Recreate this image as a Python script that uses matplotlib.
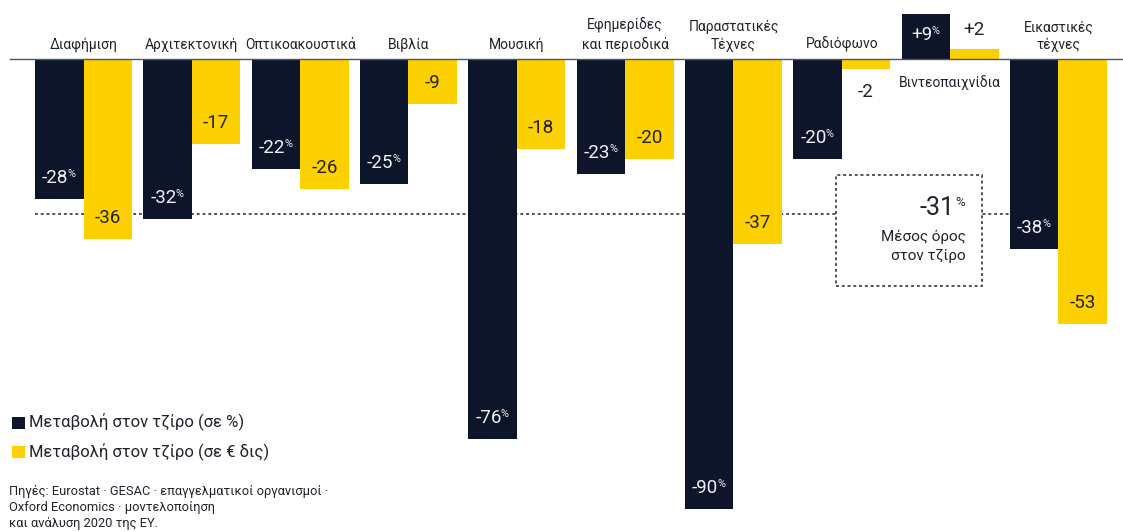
import matplotlib.pyplot as plt
from matplotlib.patches import Rectangle

plt.rcParams['font.family'] = ['Roboto', 'DejaVu Sans']

categories = ['Διαφήμιση', 'Αρχιτεκτονική', 'Οπτικοακουστικά', 'Βιβλία', 'Μουσική',
              'Εφημερίδες\nκαι περιοδικά', 'Παραστατικές\nΤέχνες', 'Ραδιόφωνο',
              'Βιντεοπαιχνίδια', 'Εικαστικές\nτέχνες']
change_pct = [-28, -32, -22, -25, -76, -23, -90, -20, 9, -38]   # μεταβολή σε %
change_bn = [-36, -17, -26, -9, -18, -20, -37, -2, 2, -53]      # μεταβολή σε € δις
average_pct = -31
legend_labels = ['Μεταβολή στον τζίρο (σε %)', 'Μεταβολή στον τζίρο (σε € δις)']
source = ('Πηγές: Eurostat · GESAC · επαγγελματικοί οργανισμοί ·\n'
          'Oxford Economics · μοντελοποίηση\n'
          'και ανάλυση 2020 της EY.')

NAVY = '#0c1529'
YELLOW = '#fdd000'
INK = '#22222c'
W, H = 1123, 532


def fxy(px, py):
    # pixel position (from top-left) -> figure fraction
    return px / W, 1 - py / H


fig = plt.figure(figsize=(W / 100, H / 100), dpi=100)
ax = fig.add_axes([0, 0, 1, 1])
ax.set_xlim(-0.771, 9.596)
ax.set_ylim(-94.6, 11.8)
ax.axis('off')

w = 0.448
x = list(range(len(categories)))

ax.bar([i - w / 2 for i in x], change_pct, width=w, color=NAVY, zorder=3)
ax.bar([i + w / 2 for i in x], change_bn, width=w, color=YELLOW, zorder=3)

ax.axhline(0, xmin=10 / W, color='#55555f', lw=1.0, zorder=4)

# μέσος όρος
ax.plot([x[0] - w, x[-1] - w], [average_pct, average_pct], color='#444444',
        lw=1.3, linestyle=(0, (1.6, 1.6)), zorder=2)
ax.add_patch(Rectangle((6.946, -45.4), 1.348, 22.2, facecolor='white',
                       edgecolor='#444444', lw=1.3, linestyle=(0, (1.6, 1.6)), zorder=2.5))


def value_label(xc, y, v, color, pct, size=13.5):
    t = ax.annotate(f'{v:+d}', xy=(xc, y), xytext=(-3 if pct else 0, 0),
                    textcoords='offset points', ha='center', va='center',
                    fontsize=size, color=color, zorder=5)
    if pct:
        ax.annotate('%', xy=(1, 1), xycoords=t, xytext=(-0.6, 0),
                    textcoords='offset points', ha='left', va='top',
                    fontsize=size * 0.58, color=color, zorder=5)


for i in x:
    for v, xc, inside_col, is_pct in [(change_pct[i], i - w / 2, '#f0f0f4', True),
                                      (change_bn[i], i + w / 2, INK, False)]:
        s = 1 if v > 0 else -1
        if abs(v) >= 5:
            value_label(xc, v - s * 4.2, v, inside_col, is_pct)
        else:
            value_label(xc, v + s * (3.8 if v > 0 else 4.6), v, INK, is_pct)

    if change_pct[i] > 0 and change_bn[i] > 0:
        ax.text(i, -4.8, categories[i], ha='center', va='center', fontsize=10, color=INK)
    else:
        ax.text(i, 1.4, categories[i], ha='center', va='bottom', fontsize=10,
                color=INK, linespacing=1.3)

ax.annotate(f'{average_pct:+d}', xy=(8.045, average_pct + 1.2), ha='right', va='center',
            fontsize=18, color=INK, zorder=5)
ax.annotate('%', xy=(8.045, average_pct + 2.4), xytext=(0.5, 0), textcoords='offset points',
            ha='left', va='center', fontsize=9.5, color=INK, zorder=5)
ax.text(8.147, -37.5, 'Μέσος όρος\nστον τζίρο', ha='right', va='center',
        fontsize=11, color=INK, linespacing=1.4, zorder=5)

# υπόμνημα
for k, (col, lab) in enumerate(zip([NAVY, YELLOW], legend_labels)):
    cy = 422.5 + 29.5 * k
    x0, y0 = fxy(12, cy + 6)
    fig.add_artist(Rectangle((x0, y0), 13 / W, 12 / H, transform=fig.transFigure,
                             facecolor=col, edgecolor='none'))
    fig.text(*fxy(29, cy), lab, ha='left', va='center', fontsize=12, color=INK)

fig.text(*fxy(9, 507.5), source, ha='left', va='center', fontsize=9.3,
         color=INK, linespacing=1.28)

fig.savefig('out.png', dpi=100)
